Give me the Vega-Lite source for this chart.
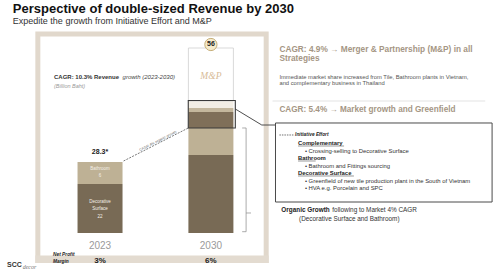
{
  "$schema": "https://vega.github.io/schema/vega-lite/v6.json",
  "width": 501,
  "height": 270,
  "autosize": {"type": "fit", "contains": "padding"},
  "padding": 0,
  "background": "#ffffff",
  "config": {"view": {"stroke": null}, "font": "Liberation Sans", "text": {"font": "Liberation Sans"}},
  "datasets": {
    "bars": [
      {"year": 2023, "segment": "Decorative Surface", "value": 19.53, "order": 1},
      {"year": 2023, "segment": "Bathroom", "value": 8.77, "order": 2},
      {"year": 2030, "segment": "Decorative Surface", "value": 31.09, "order": 1},
      {"year": 2030, "segment": "Bathroom", "value": 10.76, "order": 2},
      {"year": 2030, "segment": "Initiative: Decorative Surface", "value": 6.38, "order": 3},
      {"year": 2030, "segment": "Initiative: Bathroom", "value": 1.59, "order": 4},
      {"year": 2030, "segment": "Initiative: Complementary", "value": 2.79, "order": 5},
      {"year": 2030, "segment": "M&P", "value": 21.12, "order": 6}
    ],
    "years": [
      {"year": 2023, "total": "28.3*", "margin": "3%"},
      {"year": 2030, "total": "56", "margin": "6%"}
    ]
  },
  "layer": [
    {
      "data": {"values": [{}]},
      "mark": {"type": "rect", "fill": null, "stroke": "#e1d8cc", "strokeWidth": 5},
      "encoding": {
        "x": {"datum": 2019.073, "type": "quantitative", "scale": {"domain": [2017, 2048], "nice": false, "zero": false}, "axis": null},
        "x2": {"datum": 2033.49},
        "y": {"datum": 79.315, "type": "quantitative", "scale": {"domain": [-14.747, 92.866], "nice": false, "zero": false}, "axis": null},
        "y2": {"datum": -10.96}
      }
    },
    {
      "data": {"values": [{}]},
      "mark": {"type": "rect", "fill": "#e3dbd0"},
      "encoding": {
        "x": {"datum": 2018.918, "type": "quantitative"},
        "x2": {"datum": 2033.645},
        "y": {"datum": -8.967, "type": "quantitative"},
        "y2": {"datum": -11.957}
      }
    },
    {
      "data": {"name": "bars"},
      "mark": {"type": "bar", "width": 45, "stroke": "#cfcfcf"},
      "encoding": {
        "x": {"field": "year", "type": "quantitative"},
        "y": {"field": "value", "type": "quantitative", "stack": "zero"},
        "order": {"field": "order", "type": "quantitative", "sort": "ascending"},
        "color": {
          "field": "segment",
          "type": "nominal",
          "legend": null,
          "scale": {
            "domain": ["Decorative Surface", "Bathroom", "Initiative: Decorative Surface", "Initiative: Bathroom", "Initiative: Complementary", "M&P"],
            "range": ["#786a55", "#beb195", "#7f6f59", "#c4b79d", "#f3eee5", "#ffffff"]
          }
        },
        "strokeWidth": {"condition": {"test": "datum.segment === 'M&P'", "value": 0.8}, "value": 0}
      }
    },
    {
      "data": {"values": [{}]},
      "mark": {"type": "rect", "fill": null, "stroke": "#3a3a3a", "strokeWidth": 1.1},
      "encoding": {
        "x": {"datum": 2028.571, "type": "quantitative"},
        "x2": {"datum": 2031.541},
        "y": {"datum": 52.81, "type": "quantitative"},
        "y2": {"datum": 41.85}
      }
    },
    {
      "data": {"values": [{"t": "M&P"}]},
      "mark": {"type": "text", "font": "Liberation Serif", "fontStyle": "italic", "fontSize": 9.5, "color": "#d7bb97"},
      "encoding": {"x": {"datum": 2030, "type": "quantitative"}, "y": {"datum": 62.575, "type": "quantitative"}, "text": {"field": "t"}}
    },
    {
      "data": {"name": "years"},
      "transform": [{"filter": "datum.year === 2030"}],
      "mark": {"type": "point", "shape": "circle", "size": 150, "filled": true, "fill": "#f5ebcb", "stroke": "#c6ae78", "strokeWidth": 1, "opacity": 1},
      "encoding": {"x": {"field": "year", "type": "quantitative"}, "y": {"datum": 75.13, "type": "quantitative"}}
    },
    {
      "data": {"name": "years"},
      "transform": [{"filter": "datum.year === 2030"}],
      "mark": {"type": "text", "fontSize": 7, "fontWeight": "bold", "color": "#222"},
      "encoding": {"x": {"field": "year", "type": "quantitative"}, "y": {"datum": 75.13, "type": "quantitative"}, "text": {"field": "total"}}
    },
    {
      "data": {"name": "years"},
      "transform": [{"filter": "datum.year === 2023"}],
      "mark": {"type": "text", "fontSize": 7, "fontWeight": "bold", "color": "#222"},
      "encoding": {"x": {"field": "year", "type": "quantitative"}, "y": {"datum": 32.085, "type": "quantitative"}, "text": {"field": "total"}}
    },
    {
      "data": {"name": "years"},
      "mark": {"type": "text", "fontSize": 10, "color": "#9a9a9a"},
      "encoding": {"x": {"field": "year", "type": "quantitative"}, "y": {"datum": -5.181, "type": "quantitative"}, "text": {"field": "year", "type": "ordinal"}}
    },
    {
      "data": {"name": "years"},
      "mark": {"type": "text", "fontSize": 8, "fontWeight": "bold", "color": "#222"},
      "encoding": {"x": {"field": "year", "type": "quantitative"}, "y": {"datum": -11.16, "type": "quantitative"}, "text": {"field": "margin"}}
    },
    {
      "data": {"values": [{"t": "Bathroom\n6"}]},
      "mark": {"type": "text", "fontSize": 4.5, "color": "#f4f0e8", "lineBreak": "\n", "lineHeight": 6.7},
      "encoding": {"x": {"datum": 2023, "type": "quantitative"}, "y": {"datum": 25.508, "type": "quantitative"}, "text": {"field": "t"}}
    },
    {
      "data": {"values": [{"t": "Decorative\nSurface\n22"}]},
      "mark": {"type": "text", "fontSize": 4.5, "color": "#f4f0e8", "lineBreak": "\n", "lineHeight": 7.5},
      "encoding": {"x": {"datum": 2023, "type": "quantitative"}, "y": {"datum": 12.475, "type": "quantitative"}, "text": {"field": "t"}}
    },
    {
      "data": {"values": [{}]},
      "mark": {"type": "rule", "color": "#555", "strokeWidth": 0.8, "strokeDash": [2, 1.2]},
      "encoding": {"x": {"datum": 2024.487, "type": "quantitative"}, "y": {"datum": 28.697, "type": "quantitative"}, "x2": {"datum": 2028.571}, "y2": {"datum": 41.85}}
    },
    {
      "data": {"values": [{"t": "CAGR 4% organic growth"}]},
      "mark": {"type": "text", "fontSize": 3.6, "color": "#666", "angle": -27},
      "encoding": {"x": {"datum": 2026.653, "type": "quantitative"}, "y": {"datum": 36.668, "type": "quantitative"}, "text": {"field": "t"}}
    },
    {
      "data": {"values": [{}]},
      "mark": {"type": "rule", "color": "#888", "strokeWidth": 0.7},
      "encoding": {"x": {"datum": 2032.222, "type": "quantitative"}, "y": {"datum": 41.85, "type": "quantitative"}, "y2": {"datum": 0.518}}
    },
    {
      "data": {"values": [{}]},
      "mark": {"type": "rule", "color": "#888", "strokeWidth": 0.7},
      "encoding": {"x": {"datum": 2031.974, "type": "quantitative"}, "x2": {"datum": 2032.222}, "y": {"datum": 41.85, "type": "quantitative"}}
    },
    {
      "data": {"values": [{}]},
      "mark": {"type": "rule", "color": "#888", "strokeWidth": 0.7},
      "encoding": {"x": {"datum": 2031.974, "type": "quantitative"}, "x2": {"datum": 2032.222}, "y": {"datum": 0.518, "type": "quantitative"}}
    },
    {
      "data": {"values": [{}]},
      "mark": {"type": "rule", "color": "#888", "strokeWidth": 0.7},
      "encoding": {"x": {"datum": 2032.222, "type": "quantitative"}, "x2": {"datum": 2032.532}, "y": {"datum": 7.972, "type": "quantitative"}}
    },
    {
      "data": {"values": [{}]},
      "mark": {"type": "rule", "color": "#3a3a3a", "strokeWidth": 0.9},
      "encoding": {"x": {"datum": 2031.541, "type": "quantitative"}, "y": {"datum": 49.423, "type": "quantitative"}, "x2": {"datum": 2033.212}, "y2": {"datum": 43.045}}
    },
    {
      "data": {"values": [{}]},
      "mark": {"type": "rule", "color": "#3a3a3a", "strokeWidth": 0.9},
      "encoding": {"x": {"datum": 2033.212, "type": "quantitative"}, "x2": {"datum": 2034.078}, "y": {"datum": 43.045, "type": "quantitative"}}
    },
    {
      "data": {"values": [{}]},
      "mark": {"type": "rule", "color": "#dcdcdc", "strokeWidth": 0.8},
      "encoding": {"x": {"datum": 2033.892, "type": "quantitative"}, "x2": {"datum": 2047.319}, "y": {"datum": 52.611, "type": "quantitative"}}
    },
    {
      "data": {"values": [{}]},
      "mark": {"type": "rect", "fill": "#ffffff", "stroke": "#4a4a4a", "strokeWidth": 1},
      "encoding": {
        "x": {"datum": 2034.078, "type": "quantitative"},
        "x2": {"datum": 2047.753},
        "y": {"datum": 43.843, "type": "quantitative"},
        "y2": {"datum": 12.355}
      }
    },
    {
      "data": {"values": [{"t": "Perspective of double-sized Revenue by 2030"}]},
      "mark": {"type": "text", "align": "left", "fontSize": 13, "fontWeight": "bold", "color": "#111"},
      "encoding": {"x": {"datum": 2017.495, "type": "quantitative"}, "y": {"datum": 89.279, "type": "quantitative"}, "text": {"field": "t"}}
    },
    {
      "data": {"values": [{"t": "Expedite the growth from Initiative Effort and M&P"}]},
      "mark": {"type": "text", "align": "left", "fontSize": 9, "color": "#333"},
      "encoding": {"x": {"datum": 2017.495, "type": "quantitative"}, "y": {"datum": 84.695, "type": "quantitative"}, "text": {"field": "t"}}
    },
    {
      "data": {"values": [{"t": "CAGR: 10.3% Revenue"}]},
      "mark": {"type": "text", "align": "left", "fontSize": 6, "fontWeight": "bold", "color": "#333"},
      "encoding": {"x": {"datum": 2020.094, "type": "quantitative"}, "y": {"datum": 62.296, "type": "quantitative"}, "text": {"field": "t"}}
    },
    {
      "data": {"values": [{"t": "growth (2023-2030)"}]},
      "mark": {"type": "text", "align": "left", "fontSize": 6, "fontStyle": "italic", "color": "#444"},
      "encoding": {"x": {"datum": 2024.425, "type": "quantitative"}, "y": {"datum": 62.296, "type": "quantitative"}, "text": {"field": "t"}}
    },
    {
      "data": {"values": [{"t": "(Billion Baht)"}]},
      "mark": {"type": "text", "align": "left", "fontSize": 5.5, "fontStyle": "italic", "color": "#999"},
      "encoding": {"x": {"datum": 2020.094, "type": "quantitative"}, "y": {"datum": 58.589, "type": "quantitative"}, "text": {"field": "t"}}
    },
    {
      "data": {"values": [{"t": "Net Profit\nMargin"}]},
      "mark": {"type": "text", "align": "left", "fontSize": 4.8, "fontWeight": "bold", "fontStyle": "italic", "color": "#222", "lineBreak": "\n", "lineHeight": 7},
      "encoding": {"x": {"datum": 2020.032, "type": "quantitative"}, "y": {"datum": -8.767, "type": "quantitative"}, "text": {"field": "t"}}
    },
    {
      "data": {"values": [{"t": "SCC"}]},
      "mark": {"type": "text", "align": "left", "fontSize": 7, "fontWeight": "bold", "color": "#333"},
      "encoding": {"x": {"datum": 2017.124, "type": "quantitative"}, "y": {"datum": -12.754, "type": "quantitative"}, "text": {"field": "t"}}
    },
    {
      "data": {"values": [{"t": "decor"}]},
      "mark": {"type": "text", "align": "left", "fontSize": 6, "font": "Liberation Serif", "fontStyle": "italic", "color": "#777"},
      "encoding": {"x": {"datum": 2018.114, "type": "quantitative"}, "y": {"datum": -13.551, "type": "quantitative"}, "text": {"field": "t"}}
    },
    {
      "data": {"values": [{"t": "CAGR: 4.9% → Merger & Partnership (M&P) in all\nStrategies"}]},
      "mark": {"type": "text", "align": "left", "fontSize": 8.3, "fontWeight": "bold", "color": "#a59684", "lineBreak": "\n", "lineHeight": 9},
      "encoding": {"x": {"datum": 2034.325, "type": "quantitative"}, "y": {"datum": 72.938, "type": "quantitative"}, "text": {"field": "t"}}
    },
    {
      "data": {"values": [{"t": "Immediate market share increased from Tile, Bathroom plants in Vietnam,\nand complementary business in Thailand"}]},
      "mark": {"type": "text", "align": "left", "fontSize": 5.8, "color": "#555", "lineBreak": "\n", "lineHeight": 6.3},
      "encoding": {"x": {"datum": 2034.325, "type": "quantitative"}, "y": {"datum": 62.176, "type": "quantitative"}, "text": {"field": "t"}}
    },
    {
      "data": {"values": [{"t": "CAGR: 5.4% → Market growth and Greenfield"}]},
      "mark": {"type": "text", "align": "left", "fontSize": 8.2, "fontWeight": "bold", "color": "#a59684"},
      "encoding": {"x": {"datum": 2034.325, "type": "quantitative"}, "y": {"datum": 49.024, "type": "quantitative"}, "text": {"field": "t"}}
    },
    {
      "data": {"values": [{}]},
      "mark": {"type": "rule", "color": "#333", "strokeWidth": 0.7, "strokeDash": [1.5, 1]},
      "encoding": {"x": {"datum": 2034.325, "type": "quantitative"}, "x2": {"datum": 2035.253}, "y": {"datum": 39.06, "type": "quantitative"}}
    },
    {
      "data": {"values": [{"t": "Initiative Effort"}]},
      "mark": {"type": "text", "align": "left", "fontSize": 4.8, "fontWeight": "bold", "fontStyle": "italic", "color": "#222"},
      "encoding": {"x": {"datum": 2035.315, "type": "quantitative"}, "y": {"datum": 39.06, "type": "quantitative"}, "text": {"field": "t"}}
    },
    {
      "data": {"values": [{"t": "Complementary\nBathroom\nDecorative Surface"}]},
      "mark": {"type": "text", "align": "left", "fontSize": 5.9, "fontWeight": "bold", "color": "#222", "lineBreak": "\n", "lineHeight": 15},
      "encoding": {"x": {"datum": 2035.501, "type": "quantitative"}, "y": {"datum": 35.871, "type": "quantitative"}, "text": {"field": "t"}}
    },
    {
      "data": {"values": [{}]},
      "mark": {"type": "rule", "color": "#333", "strokeWidth": 0.5},
      "encoding": {"x": {"datum": 2035.501, "type": "quantitative"}, "x2": {"datum": 2038.409}, "y": {"datum": 34.675, "type": "quantitative"}}
    },
    {
      "data": {"values": [{}]},
      "mark": {"type": "rule", "color": "#333", "strokeWidth": 0.5},
      "encoding": {"x": {"datum": 2035.501, "type": "quantitative"}, "x2": {"datum": 2036.615}, "y": {"datum": 28.697, "type": "quantitative"}}
    },
    {
      "data": {"values": [{}]},
      "mark": {"type": "rule", "color": "#333", "strokeWidth": 0.5},
      "encoding": {"x": {"datum": 2035.501, "type": "quantitative"}, "x2": {"datum": 2039.028}, "y": {"datum": 22.719, "type": "quantitative"}}
    },
    {
      "data": {"values": [{"t": "• Crossing-selling to Decorative Surface\n• Bathroom and Fittings sourcing"}]},
      "mark": {"type": "text", "align": "left", "fontSize": 5.9, "color": "#333", "lineBreak": "\n", "lineHeight": 15},
      "encoding": {"x": {"datum": 2035.934, "type": "quantitative"}, "y": {"datum": 32.802, "type": "quantitative"}, "text": {"field": "t"}}
    },
    {
      "data": {"values": [{"t": "• Greenfield of new tile production plant in the South of Vietnam\n• HVA e.g. Porcelain and SPC"}]},
      "mark": {"type": "text", "align": "left", "fontSize": 5.9, "color": "#333", "lineBreak": "\n", "lineHeight": 7.5},
      "encoding": {"x": {"datum": 2035.934, "type": "quantitative"}, "y": {"datum": 20.726, "type": "quantitative"}, "text": {"field": "t"}}
    },
    {
      "data": {"values": [{"t": "Organic Growth"}]},
      "mark": {"type": "text", "align": "left", "fontSize": 6.4, "fontWeight": "bold", "color": "#222"},
      "encoding": {"x": {"datum": 2034.449, "type": "quantitative"}, "y": {"datum": 9.168, "type": "quantitative"}, "text": {"field": "t"}}
    },
    {
      "data": {"values": [{"t": "following to Market 4% CAGR"}]},
      "mark": {"type": "text", "align": "left", "fontSize": 6.4, "color": "#333"},
      "encoding": {"x": {"datum": 2037.667, "type": "quantitative"}, "y": {"datum": 9.168, "type": "quantitative"}, "text": {"field": "t"}}
    },
    {
      "data": {"values": [{"t": "(Decorative Surface and Bathroom)"}]},
      "mark": {"type": "text", "align": "left", "fontSize": 6.4, "color": "#333"},
      "encoding": {"x": {"datum": 2035.563, "type": "quantitative"}, "y": {"datum": 5.581, "type": "quantitative"}, "text": {"field": "t"}}
    }
  ]
}
